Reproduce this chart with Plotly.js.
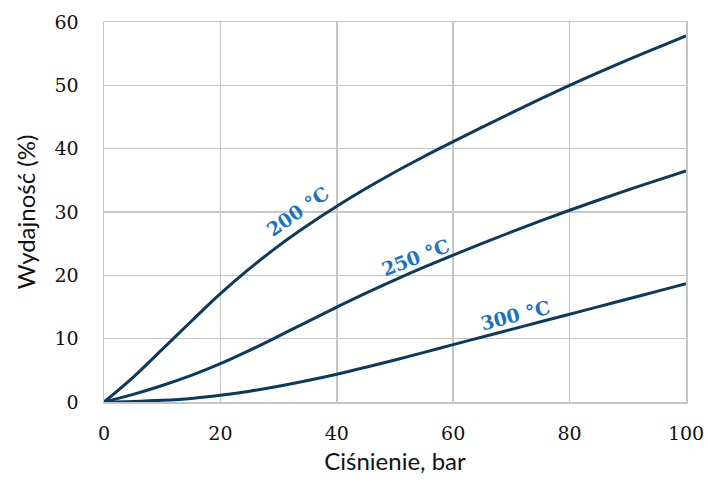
<!DOCTYPE html>
<html>
<head>
<meta charset="utf-8">
<script src="https://cdn.plot.ly/plotly-3.0.1.min.js"></script>
<style>html,body{margin:0;padding:0;background:#fff;}#chart{width:708px;height:486px;}</style>
</head>
<body>
<div id="chart"></div>
<script>
// Pressure (bar)
const pressure = [0, 5, 10, 15, 20, 25, 30, 35, 40, 45, 50, 55, 60, 65, 70, 75, 80, 85, 90, 95, 100];
// Yield (%) at each temperature
const yield200 = [0, 3.9, 8.3, 12.75, 17.1, 21.05, 24.65, 27.9, 30.9, 33.7, 36.32, 38.77, 41.1, 43.4, 45.65, 47.85, 50.0, 52.05, 54.02, 55.93, 57.8];
const yield250 = [0, 1.2, 2.6, 4.2, 6.05, 8.15, 10.4, 12.7, 14.98, 17.18, 19.28, 21.28, 23.2, 25.05, 26.85, 28.6, 30.28, 31.9, 33.47, 35.0, 36.5];
const yield300 = [0, 0.08, 0.26, 0.56, 1.06, 1.71, 2.49, 3.39, 4.39, 5.49, 6.64, 7.84, 9.06, 10.26, 11.46, 12.66, 13.86, 15.06, 16.26, 17.46, 18.66];
const seriesNames = ["200 °C", "250 °C", "300 °C"];
const labelX = [33.3, 53.6, 70.7];
const labelY = [30.2, 22.9, 13.7];
const labelAngle = [-35, -21, -14];

const lineColor = "#0b3a5e";
const series = [yield200, yield250, yield300];
const traces = series.map((ys, i) => ({
  x: pressure, y: ys, type: "scatter", mode: "lines", name: seriesNames[i],
  line: {color: lineColor, width: 3, shape: "spline", smoothing: 1},
  hoverinfo: "skip"
}));

const annotations = seriesNames.map((t, i) => ({
  x: labelX[i], y: labelY[i], xref: "x", yref: "y", text: "<b>" + t + "</b>",
  showarrow: false, textangle: labelAngle[i],
  font: {family: "DejaVu Serif", size: 19, color: "#1a73c2"}
}));

const gridColor = "#c6c6c6";
const layout = {
  width: 708, height: 486,
  margin: {l: 104, r: 22, t: 22, b: 84},
  paper_bgcolor: "#fff", plot_bgcolor: "#fff",
  showlegend: false,
  xaxis: {
    range: [0, 100], tickvals: [0, 20, 40, 60, 80, 100],
    showgrid: true, gridcolor: gridColor, gridwidth: 1.5,
    showline: true, linecolor: gridColor, linewidth: 1.5, mirror: true,
    zeroline: false, ticks: "outside", ticklen: 14, tickcolor: "rgba(0,0,0,0)",
    tickfont: {family: "DejaVu Serif", size: 19, color: "#111"},
    title: {text: "Ciśnienie, bar", font: {family: "Lato", size: 24, color: "#111"}, standoff: 10}
  },
  yaxis: {
    range: [0, 60], tickvals: [0, 10, 20, 30, 40, 50, 60],
    showgrid: true, gridcolor: gridColor, gridwidth: 1.5,
    showline: true, linecolor: gridColor, linewidth: 1.5, mirror: true,
    zeroline: false, ticks: "outside", ticklen: 20, tickcolor: "rgba(0,0,0,0)",
    tickfont: {family: "DejaVu Serif", size: 19, color: "#111"},
    title: {text: "Wydajność (%)", font: {family: "Lato", size: 24, color: "#111"}, standoff: 12}
  },
  annotations: annotations
};

Plotly.newPlot("chart", traces, layout, {displayModeBar: false, staticPlot: true});
</script>
</body>
</html>
